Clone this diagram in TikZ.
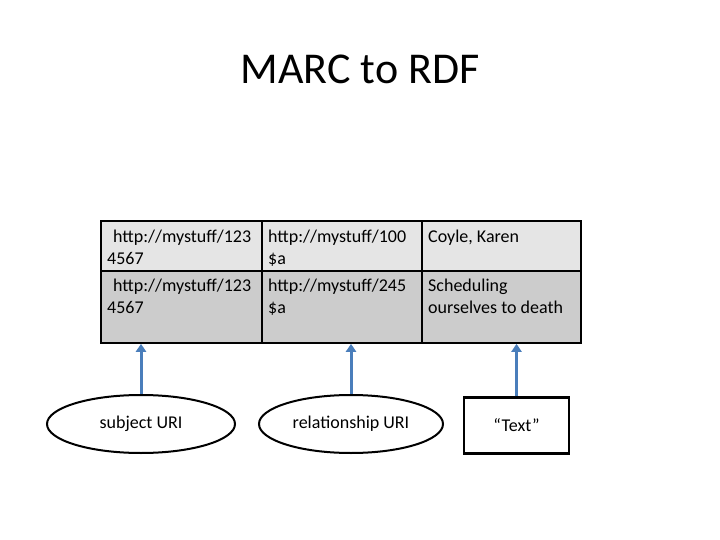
\documentclass[tikz,border=0pt]{standalone}
\usepackage{fontspec}
\setmainfont{Carlito}
\usetikzlibrary{arrows.meta,shapes.geometric}
\definecolor{linkblue}{RGB}{74,126,187}

\begin{document}
\begin{tikzpicture}[x=1pt, y=-1pt,
    cell/.style={draw, line width=1.8pt, anchor=north west, inner sep=0pt},
    rowa/.style={cell, fill=black!10, minimum height=50pt},
    rowb/.style={cell, fill=black!20, minimum height=72pt},
    celltext/.style={anchor=base west, align=left, inner sep=0pt, font=\fontsize{18}{22}\selectfont},
    uri/.style={ellipse, draw, line width=2pt, minimum width=188pt, minimum height=58pt, font=\fontsize{18}{22}\selectfont},
    link/.style={draw=linkblue, line width=3pt, -{Triangle[width=10pt,length=8pt]}}]
                \useasboundingbox (0,0) rectangle (720,540);

                % Title
                \node[anchor=base, font=\fontsize{44}{53}\selectfont] (title) at (360,84) {MARC to RDF};

                % Table cells
                \node[rowa, minimum width=161pt] (r1c1) at (100,220) {};
                \node[rowa, minimum width=160pt] (r1c2) at (261,220) {};
                \node[rowa, minimum width=159pt] (r1c3) at (421,220) {};
                \node[rowb, minimum width=161pt] (r2c1) at (100,270) {};
                \node[rowb, minimum width=160pt] (r2c2) at (261,270) {};
                \node[rowb, minimum width=159pt] (r2c3) at (421,270) {};

                % Cell texts (base = last line)
                \node[celltext] (t11) at (107,264) {\hspace*{6pt}http://mystuff/123\\4567};
                \node[celltext] (t12) at (268,264) {http://mystuff/100\\\$a};
                \node[celltext] (t13) at (428,242) {Coyle, Karen};
                \node[celltext] (t21) at (107,313) {\hspace*{6pt}http://mystuff/123\\4567};
                \node[celltext] (t22) at (268,313) {http://mystuff/245\\\$a};
                \node[celltext] (t23) at (428,313) {Scheduling\\ourselves to death};

                % Nodes
                \node[uri] (subj) at (141,424) {subject URI};
                \node[uri, minimum width=184pt] (rel) at (351,424) {relationship URI};
                \node[draw, line width=2.2pt, minimum width=105pt, minimum height=56pt, font=\fontsize{18}{22}\selectfont] (obj) at (516.5,425.5) {“Text”};

                % Edges
                \draw[link] (subj.north) -- (subj.north |- r2c1.south);
                \draw[link] (rel.north) -- (rel.north |- r2c2.south);
                \draw[link] (obj.north) -- (obj.north |- r2c3.south);
            \end{tikzpicture}
\end{document}
